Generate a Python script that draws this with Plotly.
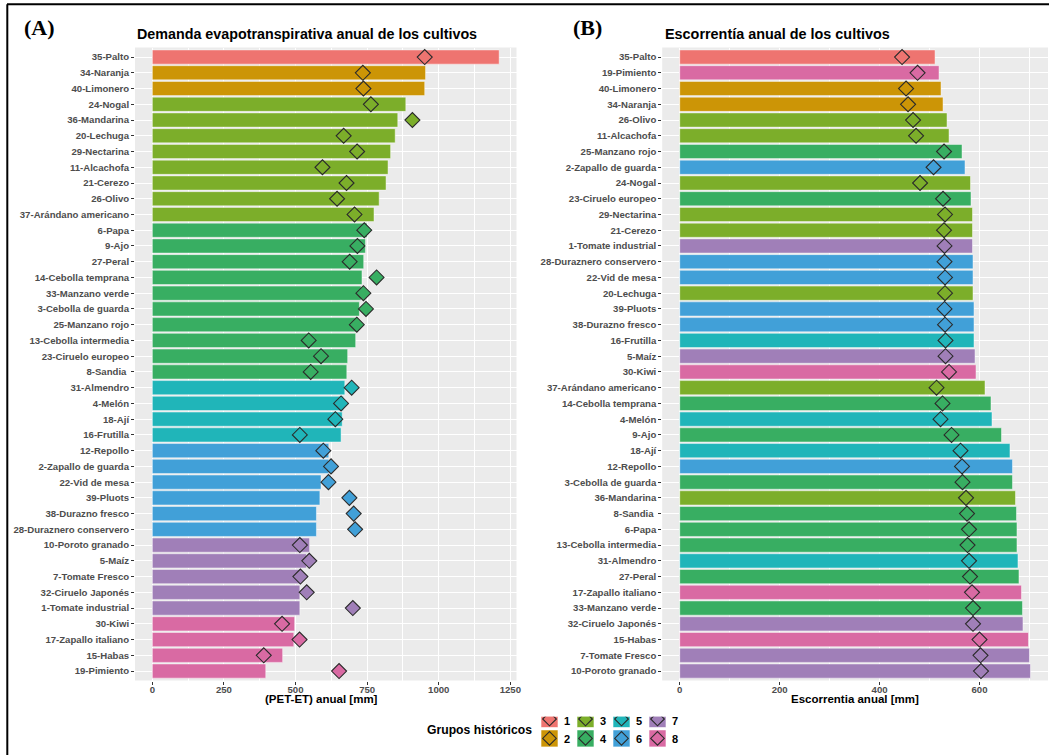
import plotly.graph_objects as go

# ---------------- data ----------------
group_ids = [1, 2, 3, 4, 5, 6, 7, 8]
group_colors = ["#EE7470", "#CC9506", "#7CAE2A", "#38AE62",
                "#20B5B9", "#41A0D8", "#A07FB8", "#D96AA3"]

# Panel A: Demanda evapotranspirativa (PET-ET) anual [mm]
crops_A = ["35-Palto", "34-Naranja", "40-Limonero", "24-Nogal", "36-Mandarina",
           "20-Lechuga", "29-Nectarina", "11-Alcachofa", "21-Cerezo", "26-Olivo",
           "37-Arándano americano", "6-Papa", "9-Ajo", "27-Peral",
           "14-Cebolla temprana", "33-Manzano verde", "3-Cebolla de guarda",
           "25-Manzano rojo", "13-Cebolla intermedia", "23-Ciruelo europeo",
           "8-Sandia\u00a0", "31-Almendro", "4-Melón", "18-Ají", "16-Frutilla",
           "12-Repollo", "2-Zapallo de guarda", "22-Vid de mesa", "39-Pluots",
           "38-Durazno fresco", "28-Duraznero conservero", "10-Poroto granado",
           "5-Maíz", "7-Tomate Fresco", "32-Ciruelo Japonés", "1-Tomate industrial",
           "30-Kiwi", "17-Zapallo italiano", "15-Habas", "19-Pimiento"]
groups_A = [1, 2, 2, 3, 3, 3, 3, 3, 3, 3, 3,
            4, 4, 4, 4, 4, 4, 4, 4, 4, 4,
            5, 5, 5, 5,
            6, 6, 6, 6, 6, 6,
            7, 7, 7, 7, 7,
            8, 8, 8, 8]
future_A = [1211, 954, 951, 885, 857, 848, 832, 823, 816, 792, 774,
            750, 744, 738, 732, 729, 723, 718, 710, 682, 679,
            672, 667, 663, 659,
            616, 616, 589, 585, 573, 573,
            549, 538, 515, 515, 515,
            497, 494, 455, 396]
hist_A = [951, 735, 737, 763, 908, 668, 715, 594, 678, 645, 706,
          740, 716, 689, 783, 737, 746, 714, 546, 589, 553,
          696, 659, 639, 515,
          597, 624, 615, 688, 703, 708,
          515, 548, 517, 539, 700,
          453, 514, 389, 652]

# Panel B: Escorrentía anual [mm]
crops_B = ["35-Palto", "19-Pimiento", "40-Limonero", "34-Naranja", "26-Olivo",
           "11-Alcachofa", "25-Manzano rojo", "2-Zapallo de guarda", "24-Nogal",
           "23-Ciruelo europeo", "29-Nectarina", "21-Cerezo", "1-Tomate industrial",
           "28-Duraznero conservero", "22-Vid de mesa", "20-Lechuga", "39-Pluots",
           "38-Durazno fresco", "16-Frutilla", "5-Maíz", "30-Kiwi",
           "37-Arándano americano", "14-Cebolla temprana", "4-Melón", "9-Ajo",
           "18-Ají", "12-Repollo", "3-Cebolla de guarda", "36-Mandarina",
           "8-Sandia\u00a0", "6-Papa", "13-Cebolla intermedia", "31-Almendro",
           "27-Peral", "17-Zapallo italiano", "33-Manzano verde",
           "32-Ciruelo Japonés", "15-Habas", "7-Tomate Fresco", "10-Poroto granado"]
future_B = [511, 519, 523, 527, 535, 539, 565, 571, 582, 583, 586, 586, 586,
            587, 587, 587, 589, 589, 589, 591, 593, 611, 623, 625, 644, 661,
            666, 666, 672, 674, 675, 675, 677, 679, 684, 686, 687, 698, 700, 702]
hist_B = [445, 476, 453, 457, 467, 473, 529, 508, 481, 527, 531, 529, 530,
          530, 531, 531, 530, 531, 532, 532, 539, 514, 526, 522, 544, 562,
          565, 566, 573, 575, 579, 576, 579, 581, 585, 587, 587, 600, 602, 603]

title_A = "Demanda evapotranspirativa anual de los cultivos"
title_B = "Escorrentía anual de los cultivos"
xlabel_A = "(PET-ET) anual [mm]"
xlabel_B = "Escorrentia anual [mm]"
legend_title = "Grupos históricos"

# ---------------- helpers ----------------
W, H = 1049, 755
col_of = dict(zip(group_ids, group_colors))
group_of = dict(zip(crops_A, groups_A))
groups_B = [group_of[c] for c in crops_B]
FONT = "Liberation Sans, Arial"


def px(x):
    return x / W


def py(y):
    return 1 - y / H


fig = go.Figure()

# Panel A
fig.add_trace(go.Bar(
    y=crops_A, x=future_A, orientation="h", width=0.9,
    marker=dict(color=[col_of[g] for g in groups_A],
                line=dict(color="rgba(255,255,255,0.45)", width=1)),
    xaxis="x", yaxis="y", showlegend=False))
fig.add_trace(go.Scatter(
    y=crops_A, x=hist_A, mode="markers",
    marker=dict(symbol="diamond", size=11.5,
                color=[col_of[g] for g in groups_A],
                line=dict(color="#2b2b2b", width=1.1)),
    xaxis="x", yaxis="y", showlegend=False))

# Panel B
fig.add_trace(go.Bar(
    y=crops_B, x=future_B, orientation="h", width=0.9,
    marker=dict(color=[col_of[g] for g in groups_B],
                line=dict(color="rgba(255,255,255,0.45)", width=1)),
    xaxis="x2", yaxis="y2", showlegend=False))
fig.add_trace(go.Scatter(
    y=crops_B, x=hist_B, mode="markers",
    marker=dict(symbol="diamond", size=11.5,
                color=[col_of[g] for g in groups_B],
                line=dict(color="#2b2b2b", width=1.1)),
    xaxis="x2", yaxis="y2", showlegend=False))

# Custom legend (2 rows x 4 columns)
leg_x = [549.5 + 36 * ((g - 1) // 2) for g in group_ids]
leg_y = [719.0 if g % 2 == 1 else 738.4 for g in group_ids]
fig.add_trace(go.Scatter(
    x=leg_x, y=leg_y, mode="markers",
    marker=dict(symbol="square", size=17, color=group_colors,
                line=dict(color="rgba(255,255,255,0.6)", width=1)),
    xaxis="x3", yaxis="y3", showlegend=False, hoverinfo="skip"))
fig.add_trace(go.Scatter(
    x=leg_x, y=leg_y, mode="markers",
    marker=dict(symbol="diamond", size=10.5, color=group_colors,
                line=dict(color="#2b2b2b", width=1.1)),
    xaxis="x3", yaxis="y3", showlegend=False, hoverinfo="skip"))

tick_font = dict(family=FONT, size=9.6, color="#4D4D4D", weight="bold")

common_x = dict(showgrid=True, gridcolor="white", gridwidth=1.1, zeroline=False,
                ticks="outside", ticklen=3, tickwidth=1, tickcolor="#333333",
                tickfont=tick_font, showline=False, automargin=False,
                ticklabelstandoff=-3)
common_y = dict(type="category", showgrid=True, gridcolor="white", gridwidth=1.1,
                zeroline=False, ticks="outside", ticklen=3, tickwidth=1,
                tickcolor="#333333", tickfont=tick_font, automargin=False,
                range=[39.6, -0.6])

yA0, yA1 = py(680.5), py(47.6)

fig.update_layout(
    width=W, height=H,
    margin=dict(l=0, r=0, t=0, b=0),
    paper_bgcolor="white", plot_bgcolor="white",
    bargap=0.1,
    xaxis=dict(common_x, domain=[px(135), px(516.5)], range=[-60.5, 1271.5],
               tickvals=[0, 250, 500, 750, 1000, 1250],
               minor=dict(tickvals=[125, 375, 625, 875, 1125], showgrid=True,
                          gridcolor="white", gridwidth=0.5, ticks=""),
               anchor="y"),
    yaxis=dict(common_y, domain=[yA0, yA1], anchor="x",
               categoryorder="array", categoryarray=crops_A),
    xaxis2=dict(common_x, domain=[px(662.2), px(1048)], range=[-35.1, 737.1],
                tickvals=[0, 200, 400, 600],
                minor=dict(tickvals=[100, 300, 500, 700], showgrid=True,
                           gridcolor="white", gridwidth=0.5, ticks=""),
                anchor="y2"),
    yaxis2=dict(common_y, domain=[yA0, yA1], anchor="x2",
                categoryorder="array", categoryarray=crops_B),
    xaxis3=dict(domain=[px(535), px(700)], range=[535, 700], visible=False,
                anchor="y3", fixedrange=True),
    yaxis3=dict(domain=[py(752), py(716.7)], range=[752, 716.7], visible=False,
                anchor="x3", fixedrange=True),
)

# Grey panel backgrounds (only for the two chart panels)
for xr, yr in [("x domain", "y domain"), ("x2 domain", "y2 domain")]:
    fig.add_shape(type="rect", xref=xr, yref=yr, x0=0, x1=1, y0=0, y1=1,
                  fillcolor="#EBEBEB", line=dict(width=0), layer="below")


def label(text, x, y, size, xanchor="center", family=FONT):
    fig.add_annotation(x=px(x), y=py(y), xref="paper", yref="paper",
                       text=text, showarrow=False, xanchor=xanchor,
                       yanchor="middle",
                       font=dict(family=family, size=size, color="#000000",
                                 weight="bold"))


# Axis titles
label(xlabel_A, 321.5, 698.5, 11.5)
label(xlabel_B, 855, 698.5, 11.5)

# Legend number labels and title
for g, x, y in zip(group_ids, leg_x, leg_y):
    label(str(g), x + 17.5, 721 if g % 2 == 1 else 738.5, 11)
label(legend_title, 479.5, 730, 12.2)

# Panel titles
label(title_A, 135, 33.5, 14.3, xanchor="left")
label(title_B, 662.5, 33.5, 14.4, xanchor="left")
label("(A)", 22, 27, 22, xanchor="left", family="Liberation Serif, Times New Roman")
label("(B)", 571, 27, 22, xanchor="left", family="Liberation Serif, Times New Roman")

# Outer frame (top and left edges)
fig.add_shape(type="line", xref="paper", yref="paper",
              x0=px(7), x1=1, y0=py(4.3), y1=py(4.3),
              line=dict(color="#000000", width=2))
fig.add_shape(type="line", xref="paper", yref="paper",
              x0=px(7.3), x1=px(7.3), y0=py(4.3), y1=0,
              line=dict(color="#000000", width=2))

fig.write_html("out.html",
               config={"displayModeBar": False},
               post_script="document.body.style.margin='0';"
                           "document.body.style.overflow='hidden';")
